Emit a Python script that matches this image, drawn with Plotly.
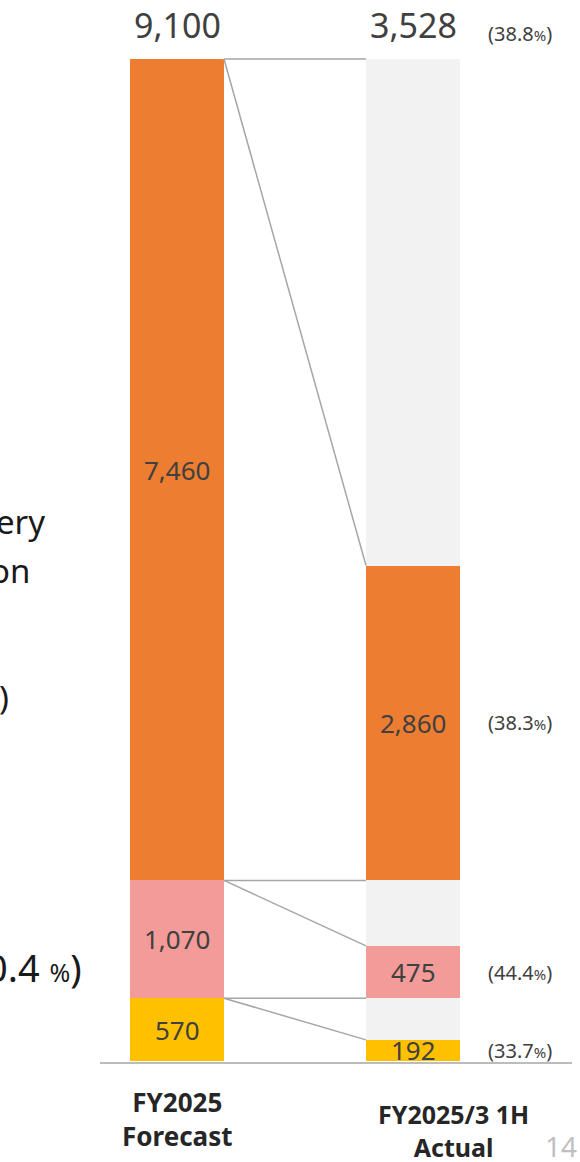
import plotly.graph_objects as go

# ---- data ----
segment_names = ["Segment C", "Segment B", "Segment A"]   # bottom -> top
forecast = [570, 1070, 7460]
actual = [192, 475, 2860]
forecast_total = 9100
actual_total = 3528
categories = ["FY2025<br>Forecast", "FY2025/3 1H<br>Actual"]
side_fragments = ["ery", "on", ")", "0.4 <span style='font-size:25px'>%</span>)"]
page_number = "14"

# ---- style / geometry (window pixels) ----
seg_colors = ["#FFC000", "#F29B98", "#ED7D31"]
bg_gray = "#F2F2F2"
line_gray = "#A6A6A6"
txt = "#404040"
FONT = "Noto Sans"
W, H = 580, 1162
base_px, top_px = 1061, 59
scale = (base_px - top_px) / forecast_total          # px per unit
unit_px = 236                                         # px per x unit
c0 = 177                                              # window px of x=0
bar_w = 94 / unit_px
x_fc, x_ac = 0, 1

def xd(px):
    return (px - c0) / unit_px

def px_paper(px, py):
    return px / W, 1 - py / H

fig = go.Figure()
bases = [sum(forecast[:i]) for i in range(len(forecast))]
for i, name in enumerate(segment_names):
    fig.add_trace(go.Bar(x=[x_fc], y=[forecast[i]], base=[bases[i]], width=bar_w,
                         marker=dict(color=seg_colors[i], line_width=0), name=name,
                         hoverinfo="skip"))
    fig.add_trace(go.Bar(x=[x_ac], y=[forecast[i]], base=[bases[i]], width=bar_w,
                         marker=dict(color=bg_gray, line_width=0), showlegend=False,
                         hoverinfo="skip"))
    fig.add_trace(go.Bar(x=[x_ac], y=[actual[i]], base=[bases[i]], width=bar_w,
                         marker=dict(color=seg_colors[i], line_width=0), showlegend=False,
                         hoverinfo="skip"))

shapes = []
xr = x_fc + bar_w / 2
xl = x_ac - bar_w / 2
for i in range(len(forecast)):
    top_f = bases[i] + forecast[i]
    top_a = bases[i] + actual[i]
    shapes.append(dict(type="line", x0=xr, x1=xl, y0=top_f, y1=top_f,
                       line=dict(color=line_gray, width=1.5)))
    shapes.append(dict(type="line", x0=xr, x1=xl, y0=top_f, y1=top_a,
                       line=dict(color=line_gray, width=1.5)))
# baseline
shapes.append(dict(type="line", x0=xd(100), x1=xd(572),
                   y0=-2 / scale, y1=-2 / scale, line=dict(color=line_gray, width=1.5)))

ann = []
def pct(a, b):
    return f"({a / b * 100:.1f}<span style='font-size:15px'>%</span>)"

# totals
ann.append(dict(x=x_fc, y=forecast_total, yshift=top_px - 25, text=f"{forecast_total:,}",
                font=dict(size=34, color=txt, family=FONT), showarrow=False, yanchor="middle"))
ann.append(dict(x=x_ac, y=forecast_total, yshift=top_px - 25, text=f"{actual_total:,}",
                font=dict(size=34, color=txt, family=FONT), showarrow=False, yanchor="middle"))
x_pct = xd(520)
ann.append(dict(x=x_pct, y=forecast_total, yshift=top_px - 33, text=pct(actual_total, forecast_total),
                font=dict(size=20, color=txt, family=FONT), showarrow=False, yanchor="middle"))

for i in range(len(forecast)):
    ann.append(dict(x=x_fc, y=bases[i] + forecast[i] / 2, text=f"{forecast[i]:,}",
                    font=dict(size=26, color=txt, family=FONT), showarrow=False, yanchor="middle"))
    ann.append(dict(x=x_ac, y=bases[i] + actual[i] / 2, text=f"{actual[i]:,}",
                    font=dict(size=26, color=txt, family=FONT), showarrow=False, yanchor="middle"))
    ann.append(dict(x=x_pct, y=bases[i] + actual[i] / 2, text=pct(actual[i], forecast[i]),
                    font=dict(size=20, color=txt, family=FONT), showarrow=False, yanchor="middle"))

# category labels
cat_layout = [(177, 1119, 26), (453, 1130, 25)]
for label, (cx, cy, fs) in zip(categories, cat_layout):
    ann.append(dict(x=xd(cx), y=0, yshift=-(cy - base_px), text=f"<b>{label}</b>",
                    font=dict(size=fs, color="#262626", family=FONT), showarrow=False,
                    yanchor="middle"))

# page number
px_, py_ = px_paper(561, 1146)
ann.append(dict(xref="paper", yref="paper", x=px_, y=py_, text=page_number,
                font=dict(size=28, color="#BFBFBF", family=FONT), showarrow=False,
                xanchor="center", yanchor="middle"))

# clipped text fragments at left edge
frag_pos = [(47, 522, 33), (32, 570, 33), (11, 697, 33), (84, 967, 38)]
for t, (fx, fy, fs) in zip(side_fragments, frag_pos):
    px_, py_ = px_paper(fx, fy)
    ann.append(dict(xref="paper", yref="paper", x=px_, y=py_, text=t,
                    font=dict(size=fs, color="#1A1A1A", family=FONT), showarrow=False,
                    xanchor="right", yanchor="middle"))

fig.update_layout(
    width=W, height=H, margin=dict(l=0, r=0, t=0, b=0),
    barmode="overlay", bargap=0, showlegend=False,
    plot_bgcolor="white", paper_bgcolor="white",
    xaxis=dict(range=[xd(0), xd(W)], visible=False, fixedrange=True),
    yaxis=dict(range=[-(H - base_px) / scale, base_px / scale],
               visible=False, fixedrange=True),
    shapes=shapes, annotations=ann,
)
fig.write_html("out.html", config={"displayModeBar": False},
               post_script="document.body.style.margin='0';")
